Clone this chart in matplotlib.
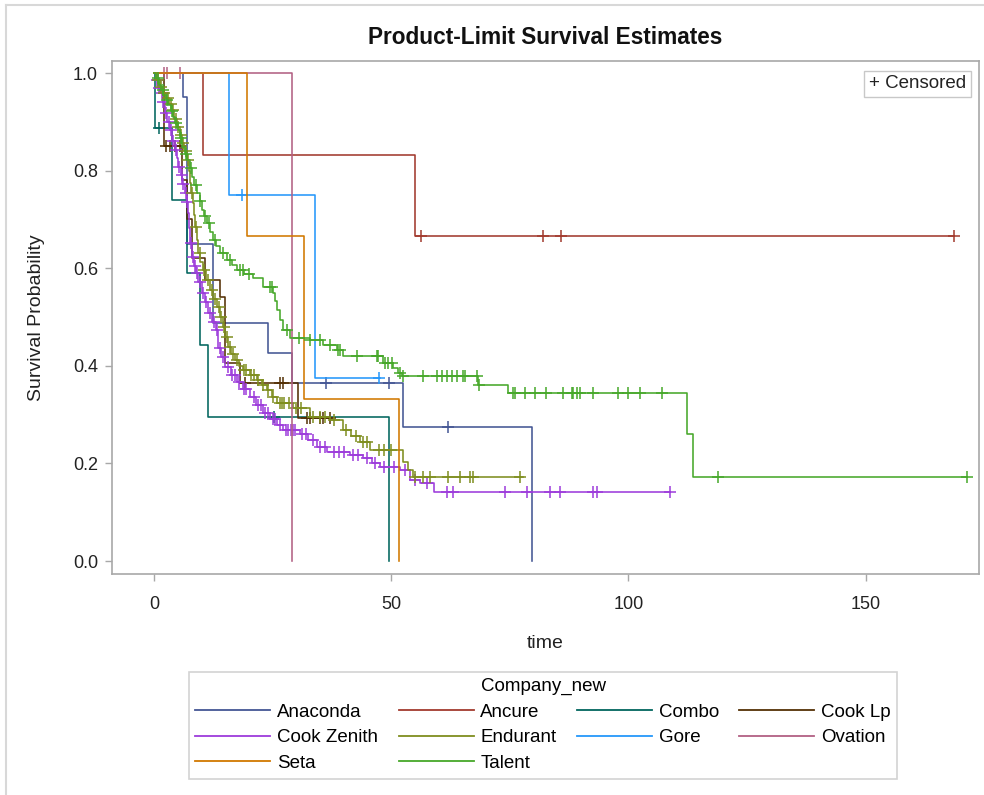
import numpy as np
import matplotlib.pyplot as plt
from matplotlib.lines import Line2D

plt.rcParams['font.family'] = ['Liberation Sans', 'DejaVu Sans']

# Kaplan-Meier steps: event times, survival after each event,
# censor times, and the last follow-up time of each group
companies = ['Anaconda', 'Ancure', 'Combo', 'Cook Lp', 'Cook Zenith',
             'Endurant', 'Gore', 'Ovation', 'Seta', 'Talent']
colors = ['#445694', '#A23A2E', '#01665E', '#543005', '#9D3CDB',
          '#7F8E1F', '#2597FA', '#B26084', '#D17800', '#47A82A']

ana_t = [6.1, 7.0, 12.4, 24.0, 29.0, 52.5, 79.6]
ana_s = [0.95, 0.65, 0.488, 0.426, 0.365, 0.274, 0.0]
ana_c = [36.2, 49.5, 62.0]
ana_end = 79.6

anc_t = [10.3, 55.0]
anc_s = [0.833, 0.667]
anc_c = [56.3, 82.0, 85.8, 168.6]
anc_end = 168.6

com_t = [0.3, 3.8, 7.0, 9.7, 11.3, 49.5]
com_s = [0.887, 0.74, 0.59, 0.443, 0.295, 0.0]
com_c = [1.0, 25.3]
com_end = 49.5

clp_t = [2.2, 6.0, 7.0, 8.0, 10.8, 13.9, 15.0, 18.1, 30.3]
clp_s = [0.85, 0.78, 0.70, 0.62, 0.576, 0.541, 0.405, 0.365, 0.293]
clp_c = [2.6, 3.4, 4.4, 5.4, 19.2, 26.6, 27.2, 32.2, 32.9, 35.0, 35.6, 37.1]
clp_end = 37.5

czn_t = [0.4, 0.9, 1.3, 1.8, 2.3, 2.8, 3.4, 3.9, 4.4, 4.8,
         5.1, 5.6, 6.0, 6.5, 6.9, 7.2, 7.4, 7.6, 8.0, 8.4,
         8.8, 9.3, 10.1, 10.8, 11.4, 12.2, 13.0, 13.5, 14.2, 15.0,
         16.2, 17.5, 18.8, 20.2, 21.6, 23.0, 24.5, 26.0, 27.2, 30.8,
         32.5, 34.4, 36.5, 41.3, 44.0, 46.0, 47.6, 51.8, 54.0, 56.0, 59.0]
czn_s = [0.985, 0.97, 0.96, 0.94, 0.918, 0.90, 0.883, 0.86, 0.842, 0.825,
         0.807, 0.79, 0.772, 0.754, 0.735, 0.713, 0.683, 0.652, 0.623, 0.605,
         0.59, 0.572, 0.549, 0.53, 0.508, 0.49, 0.473, 0.436, 0.418, 0.398,
         0.382, 0.367, 0.352, 0.336, 0.32, 0.303, 0.29, 0.278, 0.268, 0.26,
         0.247, 0.234, 0.223, 0.217, 0.211, 0.2, 0.193, 0.186, 0.166, 0.16, 0.141]
czn_c = [0.6, 1.1, 1.6, 2.0, 2.6, 3.1, 3.6, 4.1, 4.6, 5.3, 5.8, 6.2, 6.7, 7.0,
         7.8, 8.2, 8.6, 9.0, 9.6, 10.4, 11.0, 11.8, 12.6, 13.2, 14.0, 14.6,
         15.5, 16.5, 17.0, 18.0, 19.0, 19.5, 21.0, 22.0, 22.5, 23.5, 24.0,
         25.0, 25.5, 26.5, 27.8, 28.3, 28.8, 29.3, 29.8, 31.2, 32.0, 33.5,
         35.0, 36.0, 38.0, 39.0, 40.0, 42.0, 43.0, 45.0, 46.5, 48.5, 50.5,
         53.0, 55.0, 57.5, 61.8, 63.0, 74.0, 78.6, 83.5, 85.6, 92.5, 93.4, 108.7]
czn_end = 108.7

end_t = [0.5, 1.2, 1.9, 2.6, 3.2, 3.8, 4.3, 4.8, 5.4, 5.9,
         6.4, 7.0, 7.3, 7.6, 7.9, 8.2, 8.4, 8.6, 9.0, 9.3,
         9.8, 10.3, 11.0, 11.8, 12.5, 13.3, 13.9, 14.5, 15.0, 15.6,
         16.3, 17.1, 18.0, 18.8, 20.2, 21.7, 22.7, 23.8, 24.8, 25.9,
         29.3, 32.9, 37.1, 39.8, 41.5, 43.4, 45.5, 52.5, 53.5, 54.6]
end_s = [0.985, 0.972, 0.96, 0.948, 0.936, 0.924, 0.906, 0.889, 0.873, 0.857,
         0.84, 0.822, 0.80, 0.775, 0.755, 0.734, 0.71, 0.684, 0.658, 0.631,
         0.613, 0.596, 0.575, 0.555, 0.537, 0.52, 0.50, 0.48, 0.46, 0.439,
         0.425, 0.412, 0.40, 0.391, 0.381, 0.371, 0.36, 0.35, 0.337, 0.324,
         0.314, 0.295, 0.289, 0.268, 0.256, 0.244, 0.227, 0.203, 0.186, 0.172]
end_c = [0.8, 1.5, 2.2, 2.9, 3.5, 4.1, 4.6, 5.1, 5.7, 6.2, 6.7, 7.2, 8.0,
         8.8, 9.6, 10.6, 11.4, 12.2, 12.9, 13.6, 14.2, 14.8, 15.3, 16.0,
         16.7, 17.5, 19.0, 19.5, 20.5, 21.0, 22.0, 23.0, 24.0, 25.0, 26.5,
         27.0, 27.5, 28.5, 30.0, 31.0, 33.5, 35.0, 36.0, 38.0, 40.5, 42.5,
         44.0, 44.8, 47.5, 48.5, 50.0, 55.0, 56.7, 58.2, 62.0, 64.5, 66.6,
         67.2, 77.1]
end_end = 77.8

gor_t = [15.8, 33.9]
gor_s = [0.75, 0.375]
gor_c = [18.5, 47.5]
gor_end = 47.7

ova_t = [29.1]
ova_s = [0.0]
ova_c = [2.1, 2.7, 5.5]
ova_end = 29.1

set_t = [19.6, 31.6, 51.6]
set_s = [0.667, 0.333, 0.0]
set_c = []
set_end = 51.6

tal_t = [0.5, 1.0, 1.5, 2.0, 2.5, 3.0, 3.5, 4.0, 4.5, 5.0,
         5.5, 6.0, 6.5, 7.0, 7.5, 8.0, 8.5, 9.1, 9.6, 10.1,
         10.6, 11.2, 11.8, 12.4, 13.1, 13.9, 15.4, 16.5, 17.5, 19.0,
         20.9, 23.0, 25.1, 25.5, 25.9, 26.5, 27.2, 28.7, 32.9, 35.6,
         38.6, 39.8, 48.3, 50.4, 51.4, 52.3, 68.3, 74.6, 112.3, 113.6]
tal_s = [0.99, 0.975, 0.965, 0.955, 0.945, 0.935, 0.922, 0.91, 0.897, 0.883,
         0.866, 0.848, 0.835, 0.822, 0.805, 0.787, 0.77, 0.754, 0.737, 0.719,
         0.706, 0.693, 0.675, 0.658, 0.645, 0.631, 0.617, 0.606, 0.596, 0.588,
         0.58, 0.561, 0.549, 0.532, 0.514, 0.494, 0.473, 0.457, 0.453, 0.443,
         0.432, 0.42, 0.406, 0.395, 0.385, 0.379, 0.361, 0.344, 0.26, 0.172]
tal_c = [0.8, 1.8, 2.8, 3.7, 4.7, 5.7, 6.8, 7.8, 8.8, 9.8, 10.8, 11.5, 12.8,
         14.5, 16.0, 18.1, 18.8, 20.0, 24.4, 24.8, 28.0, 30.5, 32.9, 35.0,
         37.1, 38.8, 39.2, 42.8, 47.0, 47.2, 48.7, 49.3, 50.2, 51.8, 52.5,
         56.7, 59.6, 60.7, 61.8, 62.8, 63.9, 65.1, 65.5, 68.1, 68.5, 75.7,
         76.1, 78.2, 80.3, 82.6, 86.2, 88.1, 88.3, 89.1, 89.8, 92.5, 97.8,
         99.9, 102.4, 107.0, 118.9, 171.3]
tal_end = 171.3

curves = [(ana_t, ana_s, ana_c, ana_end), (anc_t, anc_s, anc_c, anc_end),
          (com_t, com_s, com_c, com_end), (clp_t, clp_s, clp_c, clp_end),
          (czn_t, czn_s, czn_c, czn_end), (end_t, end_s, end_c, end_end),
          (gor_t, gor_s, gor_c, gor_end), (ova_t, ova_s, ova_c, ova_end),
          (set_t, set_s, set_c, set_end), (tal_t, tal_s, tal_c, tal_end)]

fig = plt.figure(figsize=(9.84, 7.95), dpi=100)
ax = fig.add_axes([112/984, 1-574/795, 867/984, 513/795])

handles = []
for name, col, (t, s, c, tend) in zip(companies, colors, curves):
    xs = np.r_[0.0, t, tend]
    ys = np.r_[1.0, s, s[-1]]
    ax.step(xs, ys, where='post', color=col, lw=1.15)
    if len(c):
        idx = np.searchsorted(xs, c, side='right') - 1
        ax.plot(c, ys[idx], ls='none', marker='+', ms=8, mew=1.1, color=col)
    handles.append(Line2D([], [], color=col, lw=1.3, label=name))

ax.set_xlim(-8.85, 173.9)
ax.set_ylim(-0.0266, 1.0246)
ax.set_xticks([0, 50, 100, 150])
ax.set_yticks(np.arange(0, 1.01, 0.2))
ax.set_yticklabels(['%.1f' % v for v in np.arange(0, 1.01, 0.2)])
for sp in ax.spines.values():
    sp.set_color('#A8A8A8')
    sp.set_linewidth(1.2)
ax.tick_params(direction='out', length=5, width=1, color='#A8A8A8',
               labelsize=13, labelcolor='#222222')
ax.tick_params(axis='y', pad=5)
ax.tick_params(axis='x', pad=11)

ax.set_xlabel('time', fontsize=14, color='#222222')
ax.xaxis.set_label_coords(0.5, -0.118)
ax.set_ylabel('Survival Probability', fontsize=14, color='#222222')
ax.yaxis.set_label_coords(-0.077, 0.5)

fig.text(545/984, 1-37/795, 'Product-Limit Survival Estimates', fontsize=16.3,
         fontweight='bold', ha='center', va='center', color='#111111')

ax.text(0.985, 0.972, '+ Censored', transform=ax.transAxes, ha='right', va='top',
        fontsize=13.5, color='#222222',
        bbox=dict(boxstyle='square,pad=0.25', fc='white', ec='#C8C8C8', lw=1))

# matplotlib fills legend columns first, so reorder to read row by row
order = [0, 4, 8, 1, 5, 9, 2, 6, 3, 7]
leg = fig.legend([handles[i] for i in order], [companies[i] for i in order],
                 ncol=4, loc='center', bbox_to_anchor=(543/984, 1-725/795),
                 title='Company_new', fontsize=13.5, title_fontsize=13.5,
                 handlelength=4.0, handletextpad=0.35, columnspacing=1.1,
                 labelspacing=0.45, borderpad=0.35, frameon=True, fancybox=False)
leg.get_frame().set_edgecolor('#C8C8C8')
leg.get_frame().set_linewidth(1.2)

# light frame of the screenshot
fig.add_artist(Line2D([6/984, 6/984], [0, 1-5/795], color='#D8D8D8', lw=1.5,
                      transform=fig.transFigure))
fig.add_artist(Line2D([6/984, 1], [1-5/795, 1-5/795], color='#D8D8D8', lw=1.5,
                      transform=fig.transFigure))

fig.savefig('out.png', dpi=100)
